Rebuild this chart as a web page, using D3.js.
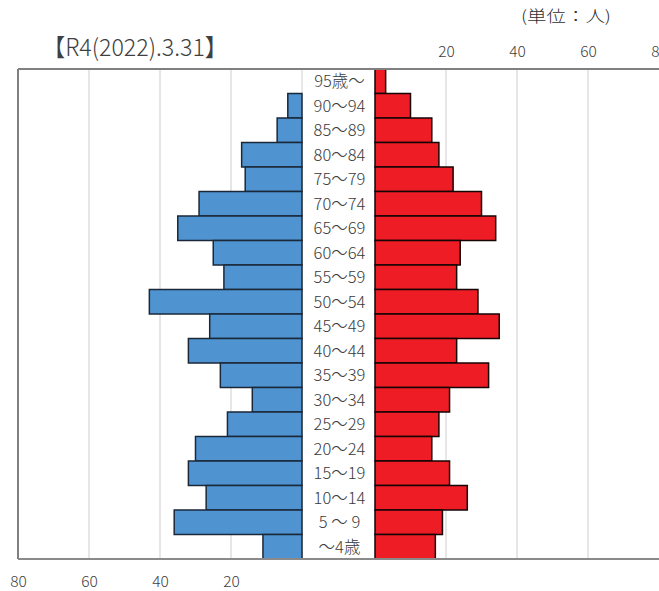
<!DOCTYPE html>
<html>
<head>
<meta charset="utf-8">
<script src="https://cdn.jsdelivr.net/npm/d3@7/dist/d3.min.js"></script>
<style>
  html, body { margin: 0; padding: 0; background: #fff; }
  svg { display: block; }
  text { font-family: "Noto Sans CJK JP", "Noto Sans", sans-serif; font-weight: 300; }
</style>
</head>
<body>
<svg id="chart" width="659" height="591"></svg>
<script>
const categories = ["95歳～","90～94","85～89","80～84","75～79","70～74","65～69","60～64","55～59","50～54","45～49","40～44","35～39","30～34","25～29","20～24","15～19","10～14","5 ～ 9","～4歳"];
const male   = [0, 4, 7, 17, 16, 29, 35, 25, 22, 43, 26, 32, 23, 14, 21, 30, 32, 27, 36, 11];
const female = [3, 10, 16, 18, 22, 30, 34, 24, 23, 29, 35, 23, 32, 21, 18, 16, 21, 26, 19, 17];
const tickValues = [20, 40, 60, 80];
const title = "【R4(2022).3.31】";
const unitLabel = "(単位：人)";

const svg = d3.select("#chart");
const W = 659, H = 591;

const y = d3.scaleBand().domain(categories).range([69, 559]).padding(0);
const xL = d3.scaleLinear().domain([0, 80]).range([302, 18]);
const xR = d3.scaleLinear().domain([0, 80]).range([375, 659]);

// gridlines
const grid = svg.append("g");
grid.selectAll("line.gl").data(tickValues.filter(d => d < 80)).join("line")
  .attr("x1", d => xL(d)).attr("x2", d => xL(d))
  .attr("y1", y.range()[0]).attr("y2", y.range()[1])
  .attr("stroke", "#d9d9d9").attr("stroke-width", 1.3);
grid.selectAll("line.gr").data(tickValues.filter(d => d < 80)).join("line")
  .attr("x1", d => xR(d)).attr("x2", d => xR(d))
  .attr("y1", y.range()[0]).attr("y2", y.range()[1])
  .attr("stroke", "#d9d9d9").attr("stroke-width", 1.3);

// label column edge
svg.append("line").attr("x1", xL(0)).attr("x2", xL(0))
  .attr("y1", y.range()[0]).attr("y2", y.range()[1])
  .attr("stroke", "#d0d0d0").attr("stroke-width", 1);

// male bars
svg.append("g").selectAll("rect").data(categories).join("rect")
  .filter((d, i) => male[i] > 0)
  .attr("x", (d) => xL(male[categories.indexOf(d)]))
  .attr("y", d => y(d))
  .attr("width", d => xL(0) - xL(male[categories.indexOf(d)]))
  .attr("height", y.bandwidth())
  .attr("fill", "#4f93d1")
  .attr("stroke", "#1b2838").attr("stroke-width", 1.5);

// female bars
svg.append("g").selectAll("rect").data(categories).join("rect")
  .filter((d, i) => female[i] > 0)
  .attr("x", xR(0))
  .attr("y", d => y(d))
  .attr("width", d => xR(female[categories.indexOf(d)]) - xR(0))
  .attr("height", y.bandwidth())
  .attr("fill", "#ee1c25")
  .attr("stroke", "#150505").attr("stroke-width", 1.5);

// frame
svg.append("line").attr("x1", xL(80)).attr("x2", W)
  .attr("y1", y.range()[0]).attr("y2", y.range()[0])
  .attr("stroke", "#808080").attr("stroke-width", 2);
svg.append("line").attr("x1", xL(80)).attr("x2", W)
  .attr("y1", y.range()[1]).attr("y2", y.range()[1])
  .attr("stroke", "#8a8a8a").attr("stroke-width", 2);
svg.append("line").attr("x1", xL(80)).attr("x2", xL(80))
  .attr("y1", y.range()[0]).attr("y2", y.range()[1])
  .attr("stroke", "#808080").attr("stroke-width", 2);

// age labels
svg.append("g").selectAll("text").data(categories).join("text")
  .attr("x", (xL(0) + xR(0)) / 2 + 1)
  .attr("y", d => y(d) + y.bandwidth() / 2)
  .attr("dy", "0.36em")
  .attr("text-anchor", "middle")
  .attr("font-size", 16.5)
  .attr("fill", "#3a3a3a")
  .text(d => d);

// axes
const axTop = d3.axisTop(xR).tickValues(tickValues).tickSize(0).tickPadding(0);
const gTop = svg.append("g").attr("transform", "translate(0,57)").call(axTop);
gTop.select(".domain").remove();
gTop.selectAll("text").attr("font-size", 15.5).attr("fill", "#404040")
  .attr("font-family", "\"Noto Sans CJK JP\", sans-serif").attr("font-weight", 300).attr("dy", "0");

const axBot = d3.axisBottom(xL).tickValues(tickValues.slice().reverse()).tickSize(0).tickPadding(0);
const gBot = svg.append("g").attr("transform", "translate(0,587)").call(axBot);
gBot.select(".domain").remove();
gBot.selectAll("text").attr("font-size", 15.5).attr("fill", "#404040")
  .attr("font-family", "\"Noto Sans CJK JP\", sans-serif").attr("font-weight", 300).attr("dy", "0");

// title
svg.append("text").attr("x", 42).attr("y", 56)
  .attr("font-size", 24).attr("fill", "#404040")
  .attr("textLength", 186).attr("lengthAdjust", "spacingAndGlyphs")
  .text(title);

svg.append("text").attr("x", 521).attr("y", 22)
  .attr("font-size", 16).attr("fill", "#303030")
  .attr("textLength", 90).attr("lengthAdjust", "spacingAndGlyphs")
  .text(unitLabel);
</script>
</body>
</html>
